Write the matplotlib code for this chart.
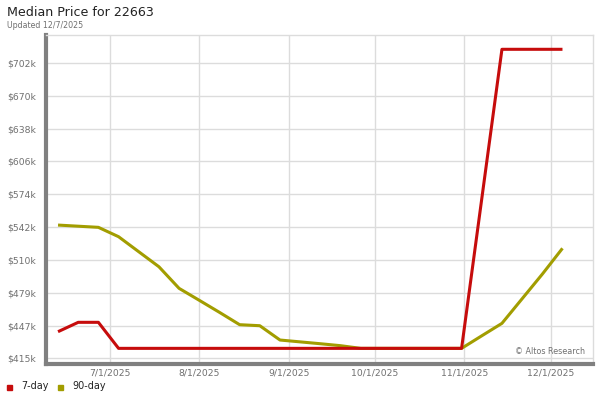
import pandas as pd
import numpy as np
import matplotlib.pyplot as plt
import matplotlib.dates as mdates

# weekly points (values in $k)
dates = pd.date_range('2025-06-13', '2025-12-05', freq='7D')

day7 = [440.9, 450.0, 450.0, 424.7, 424.7, 424.7, 424.7, 424.7, 424.7, 424.7,
        424.7, 424.7, 424.7, 424.7, 424.7, 424.7, 424.7, 424.7, 424.7, 424.7,
        424.7, 570.0, 715.3, 715.3, 715.3, 715.3]

day90 = [544.5, 543.4, 542.3, 533.2, 518.6, 504.0, 483.0, 471.4, 459.7, 447.7,
         446.7, 432.8, 431.0, 429.2, 427.3, 424.7, 424.7, 424.7, 424.7, 424.7,
         424.7, 436.9, 449.0, 472.9, 496.8, 521.9]

ytick_labels = ['$415k', '$447k', '$479k', '$510k', '$542k',
                '$574k', '$606k', '$638k', '$670k', '$702k']
xtick_dates = ['2025-07-01', '2025-08-01', '2025-09-01',
               '2025-10-01', '2025-11-01', '2025-12-01']
xtick_labels = ['7/1/2025', '8/1/2025', '9/1/2025',
                '10/1/2025', '11/1/2025', '12/1/2025']

red = '#c60c0c'
olive = '#a29d00'

fig = plt.figure(figsize=(6, 4), dpi=100)
ax = fig.add_axes([0.0767, 0.09, 0.9116, 0.8225])

ax.plot(dates, day90, color=olive, lw=2.2, solid_capstyle='butt', zorder=3)
ax.plot(dates, day7, color=red, lw=2.2, solid_capstyle='butt', zorder=4)

yt = np.linspace(415, 702, len(ytick_labels))
ax.set_yticks(yt)
ax.set_yticklabels(ytick_labels)
ax.set_ylim(409.5, 729.2)

ax.set_xticks(pd.to_datetime(xtick_dates))
ax.set_xticklabels(xtick_labels)
ax.set_xlim(pd.Timestamp('2025-06-08 20:00'), pd.Timestamp('2025-12-15 14:00'))

ax.grid(True, color='#dcdcdc', lw=1)
ax.set_axisbelow(True)
ax.tick_params(axis='both', length=0, labelsize=6.7, labelcolor='#707070')
ax.tick_params(axis='y', pad=7)
ax.tick_params(axis='x', pad=3)

for s in ['top', 'right']:
    ax.spines[s].set_color('#dcdcdc')
    ax.spines[s].set_linewidth(1)
for s in ['left', 'bottom']:
    ax.spines[s].set_color('#808080')
    ax.spines[s].set_linewidth(3)

ax.text(0.985, 0.025, '\u00a9 Altos Research', transform=ax.transAxes,
        ha='right', va='bottom', fontsize=5.8, color='#707070')

fig.text(7/600, 1 - 13/400, 'Median Price for 22663', fontsize=9.1,
         color='#222222', va='center', ha='left')
fig.text(7/600, 1 - 25/400, 'Updated 12/7/2025', fontsize=5.7,
         color='#707070', va='center', ha='left')

# legend at the bottom
ly = 1 - 386/400
fig.patches.append(plt.Rectangle((7/600, ly - 0.009), 5/600, 0.0125,
                                 transform=fig.transFigure, color=red))
fig.text(21/600, ly, '7-day', fontsize=6.9, color='#222222', va='center')
fig.patches.append(plt.Rectangle((58/600, ly - 0.009), 5/600, 0.0125,
                                 transform=fig.transFigure, color=olive))
fig.text(72/600, ly, '90-day', fontsize=6.9, color='#222222', va='center')

fig.savefig('out.png', dpi=100)
